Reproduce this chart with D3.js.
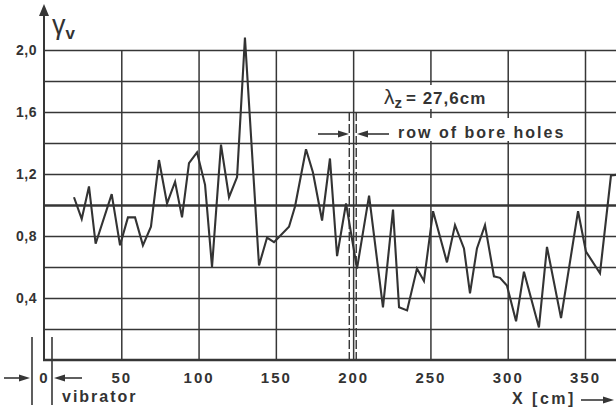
<!DOCTYPE html>
<html>
<head>
<meta charset="utf-8">
<script src="https://cdn.jsdelivr.net/npm/d3@7"></script>
<style>
  body { margin: 0; background: #fff; }
  svg { display: block; }
  text { font-family: "Liberation Sans", Arial, sans-serif; fill: #333; }
</style>
</head>
<body>
<svg id="chart" width="616" height="408"></svg>
<script>
// distance from vibrator [cm]
const xVals = [19.4, 24.4, 29.1, 33.4, 43.8, 49.2, 54.3, 58.9, 64.0, 69.2, 74.4, 79.6, 84.8, 89.3, 93.8, 99.0,
  104.2, 108.7, 114.5, 119.7, 124.9, 130.0, 139.1, 144.3, 148.8, 158.5, 162.4, 169.5, 174.0, 179.9, 185.0,
  189.6, 195.4, 202.5, 210.3, 219.3, 225.8, 229.7, 234.9, 241.3, 245.8, 251.7, 260.7, 265.9, 271.7, 275.6,
  280.1, 285.3, 291.1, 295.0, 299.5, 305.4, 310.5, 320.2, 325.4, 334.5, 345.5, 350.6, 359.7, 366.8, 374];
// gamma_v
const gammaVals = [1.05, 0.91, 1.12, 0.75, 1.07, 0.74, 0.92, 0.92, 0.74, 0.86, 1.29, 1.01, 1.15, 0.92, 1.27, 1.34,
  1.13, 0.60, 1.39, 1.05, 1.18, 2.08, 0.61, 0.79, 0.76, 0.86, 0.99, 1.36, 1.21, 0.90, 1.30,
  0.67, 1.01, 0.59, 1.06, 0.34, 0.97, 0.34, 0.32, 0.59, 0.51, 0.96, 0.63, 0.87, 0.72, 0.43,
  0.72, 0.87, 0.54, 0.53, 0.48, 0.25, 0.57, 0.21, 0.73, 0.27, 0.96, 0.70, 0.56, 1.19, 1.20];

const xTicks = [0, 50, 100, 150, 200, 250, 300, 350];
const yTicks = [0.2, 0.4, 0.6, 0.8, 1.0, 1.2, 1.4, 1.6, 1.8, 2.0];
const yLabels = [0.4, 0.8, 1.2, 1.6, 2.0];
const boreHoles = [197.5, 202.0];

const ink = "#363636";
const svg = d3.select("#chart");
const W = 616;

const x = d3.scaleLinear().domain([0, 350]).range([44, 585]);
const y = d3.scaleLinear().domain([0, 2]).range([360, 50]);

const comma = d => d3.format(".1f")(d).replace(".", ",");

// horizontal grid + y labels
const gy = svg.append("g")
    .attr("transform", "translate(" + x(0) + ",0)")
    .call(d3.axisLeft(y)
        .tickValues(yTicks)
        .tickSize(-(W - x(0)))
        .tickPadding(7)
        .tickFormat(d => yLabels.some(v => Math.abs(v - d) < 1e-6) ? comma(d) : ""));
gy.select(".domain").remove();
gy.selectAll("line")
    .attr("stroke", ink)
    .attr("stroke-width", d => Math.abs(d - 1) < 1e-6 ? 2.6 : 1.5);
gy.selectAll("text")
    .style("font-size", "14px")
    .style("font-weight", "bold")
    .style("letter-spacing", "0.5px")
    .attr("fill", ink);

// vertical grid + x labels
const gx = svg.append("g")
    .attr("transform", "translate(0," + y(0) + ")")
    .call(d3.axisBottom(x)
        .tickValues(xTicks)
        .tickSize(-(y(0) - y(2)))
        .tickPadding(12)
        .tickFormat(d3.format("d")));
gx.select(".domain").remove();
gx.selectAll("line").attr("stroke", ink).attr("stroke-width", 1.5);
gx.selectAll("text")
    .style("font-size", "15px")
    .style("font-weight", "bold")
    .style("letter-spacing", "2px")
    .attr("fill", ink);
gx.selectAll(".tick").filter(d => d === 0).select("line").remove();

// bore hole dashed lines
svg.selectAll(".bore")
    .data(boreHoles)
    .join("line")
    .attr("x1", d => x(d)).attr("x2", d => x(d))
    .attr("y1", y(1.6)).attr("y2", y(0))
    .attr("stroke", ink)
    .attr("stroke-width", 1.4)
    .attr("stroke-dasharray", "9,3");

// axes
svg.append("line")
    .attr("x1", x(0) - 1).attr("x2", W)
    .attr("y1", y(0)).attr("y2", y(0))
    .attr("stroke", ink).attr("stroke-width", 2.6);
svg.append("line")
    .attr("x1", x(0)).attr("x2", x(0))
    .attr("y1", 10).attr("y2", y(0))
    .attr("stroke", ink).attr("stroke-width", 2);
svg.append("path")
    .attr("d", "M" + x(0) + ",4 L" + (x(0) - 5) + ",16 L" + (x(0) + 5) + ",16 Z")
    .attr("fill", ink);

// data line
const line = d3.line()
    .x((d, i) => x(xVals[i]))
    .y(d => y(d));
svg.append("path")
    .datum(gammaVals)
    .attr("d", line)
    .attr("fill", "none")
    .attr("stroke", "#333")
    .attr("stroke-width", 2.1)
    .attr("stroke-linejoin", "miter");

function arrow(x1, yy, x2) {
    const dir = x2 > x1 ? 1 : -1;
    svg.append("line")
        .attr("x1", x1).attr("x2", x2 - dir * 8)
        .attr("y1", yy).attr("y2", yy)
        .attr("stroke", ink).attr("stroke-width", 1.6);
    svg.append("path")
        .attr("d", "M" + x2 + "," + yy + " L" + (x2 - dir * 11) + "," + (yy - 3.5) +
            " L" + (x2 - dir * 11) + "," + (yy + 3.5) + " Z")
        .attr("fill", ink);
}

// annotations: lambda and bore holes
svg.append("rect").attr("x", 381).attr("y", 85).attr("width", 116).attr("height", 24).attr("fill", "#fff");
svg.append("rect").attr("x", 394).attr("y", 118).attr("width", 178).attr("height", 23).attr("fill", "#fff");
const lam = svg.append("text").attr("x", 384).attr("y", 104).style("font-size", "21px");
lam.append("tspan").text("λ");
lam.append("tspan").attr("dy", 4).style("font-size", "15px").style("font-weight", "bold").text("z");
lam.append("tspan").attr("dy", -4).attr("dx", 4).style("font-size", "17px").style("font-weight", "bold")
    .style("letter-spacing", "1px").text("= 27,6cm");
svg.append("text").attr("x", 398).attr("y", 138)
    .style("font-size", "16px").style("font-weight", "bold").style("letter-spacing", "2px")
    .text("row of bore holes");
arrow(318, 134, 349);
arrow(389, 134, 357);

// gamma label
const gl = svg.append("text").attr("x", 52).attr("y", 34).style("font-size", "27px");
gl.append("tspan").text("γ");
gl.append("tspan").attr("dy", 5).style("font-size", "17px").style("font-weight", "bold").text("v");

// vibrator marks
[32, 52].forEach(px => {
    svg.append("line")
        .attr("x1", px).attr("x2", px)
        .attr("y1", 337).attr("y2", 405)
        .attr("stroke", ink).attr("stroke-width", 1.6);
});
arrow(4, 378, 30);
arrow(82, 378, 54);
svg.append("text").attr("x", 62).attr("y", 402)
    .style("font-size", "16px").style("font-weight", "bold").style("letter-spacing", "2px")
    .text("vibrator");

// x axis title
svg.append("text").attr("x", 512).attr("y", 404)
    .style("font-size", "16px").style("font-weight", "bold").style("letter-spacing", "2.5px")
    .text("X [cm]");
arrow(581, 400, 614);
</script>
</body>
</html>
